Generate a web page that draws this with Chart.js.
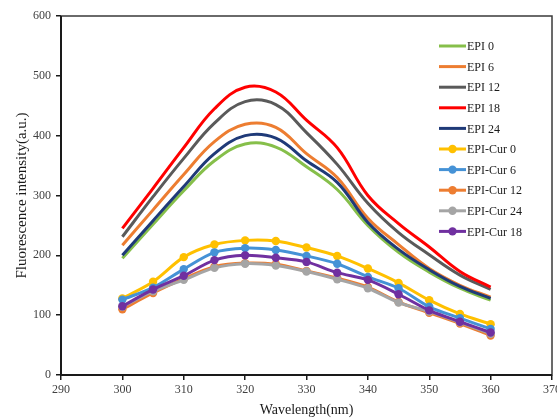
<!DOCTYPE html>
<html>
<head>
<meta charset="utf-8">
<script src="https://cdn.jsdelivr.net/npm/chart.js@4/dist/chart.umd.min.js"></script>
<style>
	html, body { margin: 0; padding: 0; background: #fff; }
	#wrap { width: 557px; height: 418px; }
</style>
</head>
<body>
<div id="wrap"><canvas id="spectra" width="557" height="418"></canvas></div>
<script>
// Emission wavelengths (nm)
const wavelengths = [300, 305, 310, 315, 320, 325, 330, 335, 340, 345, 350, 355, 360];

// EPI alone, by time point
const epi0 = [195, 252, 308, 358, 386, 381, 348, 310, 250, 205, 172, 145, 125];
const epi6 = [217, 276, 335, 390, 419, 414, 370, 330, 262, 218, 178, 150, 130];
const epi12 = [231, 298, 362, 421, 457, 452, 405, 352, 287, 238, 201, 167, 143];
const epi18 = [245, 312, 380, 445, 481, 473, 426, 380, 300, 253, 214, 173, 147];
const epi24 = [200, 258, 315, 370, 400, 396, 358, 322, 255, 210, 176, 148, 128];

// EPI with curcumin
const cur0 = [128, 156, 197, 218, 225, 224, 213, 199, 178, 154, 125, 102, 85];
const cur6 = [126, 146, 177, 205, 212, 209, 199, 186, 164, 145, 114, 95, 77];
const cur12 = [110, 137, 161, 181, 187, 185, 174, 162, 147, 122, 104, 86, 66];
const cur24 = [114, 140, 159, 179, 186, 183, 173, 160, 145, 121, 106, 88, 69];
const cur18 = [115, 143, 166, 192, 200, 196, 189, 171, 159, 135, 108, 89, 71];

const xTicks = [290, 300, 310, 320, 330, 340, 350, 360, 370];
const yTicks = [0, 100, 200, 300, 400, 500, 600];

const serif = "'Liberation Serif', 'Times New Roman', serif";

function points(vals) {
	return wavelengths.map((w, i) => ({ x: w, y: vals[i] }));
}

function plain(label, vals, color) {
	return {
		label: label,
		data: points(vals),
		borderColor: color,
		backgroundColor: color,
		borderWidth: 3,
		pointRadius: 0,
		tension: 0.4,
	};
}

function marked(label, vals, color) {
	return {
		label: label,
		data: points(vals),
		borderColor: color,
		backgroundColor: color,
		borderWidth: 3,
		pointRadius: 4.2,
		pointBorderWidth: 0,
		tension: 0.3,
	};
}

const datasets = [
	plain("EPI 0", epi0, "#86BF4A"),
	plain("EPI 6", epi6, "#ED7D31"),
	plain("EPI 12", epi12, "#5A5A5A"),
	plain("EPI 18", epi18, "#FF0000"),
	plain("EPI 24", epi24, "#1F3A78"),
	marked("EPI-Cur 0", cur0, "#FFC000"),
	marked("EPI-Cur 6", cur6, "#4592D6"),
	marked("EPI-Cur 12", cur12, "#ED7D31"),
	marked("EPI-Cur 24", cur24, "#A5A5A5"),
	marked("EPI-Cur 18", cur18, "#7030A0"),
];
// later series sit on top
datasets.forEach((d, i) => (d.order = datasets.length - i));

// Frame around the plot area
const frame = {
	id: "frame",
	beforeDatasetsDraw(chart) {
		const { ctx, chartArea: a } = chart;
		ctx.save();
		ctx.strokeStyle = "#3a3a3a";
		ctx.lineWidth = 1.5;
		ctx.strokeRect(a.left, a.top, a.right - a.left, a.bottom - a.top);
		ctx.strokeStyle = "#1a1a1a";
		ctx.lineWidth = 2;
		ctx.beginPath();
		ctx.moveTo(a.left, a.top);
		ctx.lineTo(a.left, a.bottom);
		ctx.lineTo(a.right, a.bottom);
		ctx.stroke();
		ctx.restore();
	},
};

// Legend drawn inside the plot, top right
const innerLegend = {
	id: "innerLegend",
	afterDatasetsDraw(chart) {
		const { ctx } = chart;
		const x0 = 439, x1 = 466, top = 46, gap = 20.6;
		ctx.save();
		ctx.font = "12px " + serif;
		ctx.textBaseline = "middle";
		chart.data.datasets.forEach((d, i) => {
			const y = top + i * gap;
			ctx.strokeStyle = d.borderColor;
			ctx.lineWidth = 3;
			ctx.beginPath();
			ctx.moveTo(x0, y);
			ctx.lineTo(x1, y);
			ctx.stroke();
			if (d.pointRadius > 0) {
				ctx.fillStyle = d.backgroundColor;
				ctx.beginPath();
				ctx.arc((x0 + x1) / 2, y, d.pointRadius, 0, Math.PI * 2);
				ctx.fill();
			}
			ctx.fillStyle = "#1a1a1a";
			ctx.fillText(d.label, x1 + 1, y + 1);
		});
		ctx.restore();
	},
};

new Chart(document.getElementById("spectra"), {
	type: "line",
	data: { datasets: datasets },
	options: {
		responsive: false,
		animation: false,
		layout: { padding: { top: 16, right: 5, left: 0, bottom: 0 } },
		plugins: {
			legend: { display: false },
			tooltip: { enabled: false },
		},
		scales: {
			x: {
				type: "linear",
				min: 290,
				max: 370,
				afterFit: (s) => {
					s.height = 43;
					// let the end labels run past the plot edge
					s.paddingLeft = 0;
					s.paddingRight = 0;
				},
				afterBuildTicks: (s) => { s.ticks = xTicks.map((v) => ({ value: v })); },
				grid: { drawOnChartArea: false, tickLength: 5, color: "#1a1a1a", lineWidth: 1.5 },
				border: { display: false },
				ticks: { padding: 3, color: "#404040", font: { family: serif, size: 12 } },
				title: {
					display: true,
					text: "Wavelength(nm)",
					color: "#1a1a1a",
					padding: { top: 0, bottom: -1 },
					font: { family: serif, size: 14 },
				},
			},
			y: {
				min: 0,
				max: 600,
				afterFit: (s) => {
					s.width = 61;
					s.paddingTop = 0;
					s.paddingBottom = 0;
				},
				afterBuildTicks: (s) => { s.ticks = yTicks.map((v) => ({ value: v })); },
				grid: { drawOnChartArea: false, tickLength: 5, color: "#1a1a1a", lineWidth: 1.5 },
				border: { display: false },
				ticks: { padding: 5, color: "#404040", font: { family: serif, size: 12 } },
				title: {
					display: true,
					text: "Fluorescence intensity(a.u.)",
					color: "#1a1a1a",
					padding: { top: 13, bottom: 0 },
					font: { family: serif, size: 15 },
				},
			},
		},
	},
	plugins: [frame, innerLegend],
});
</script>
</body>
</html>
